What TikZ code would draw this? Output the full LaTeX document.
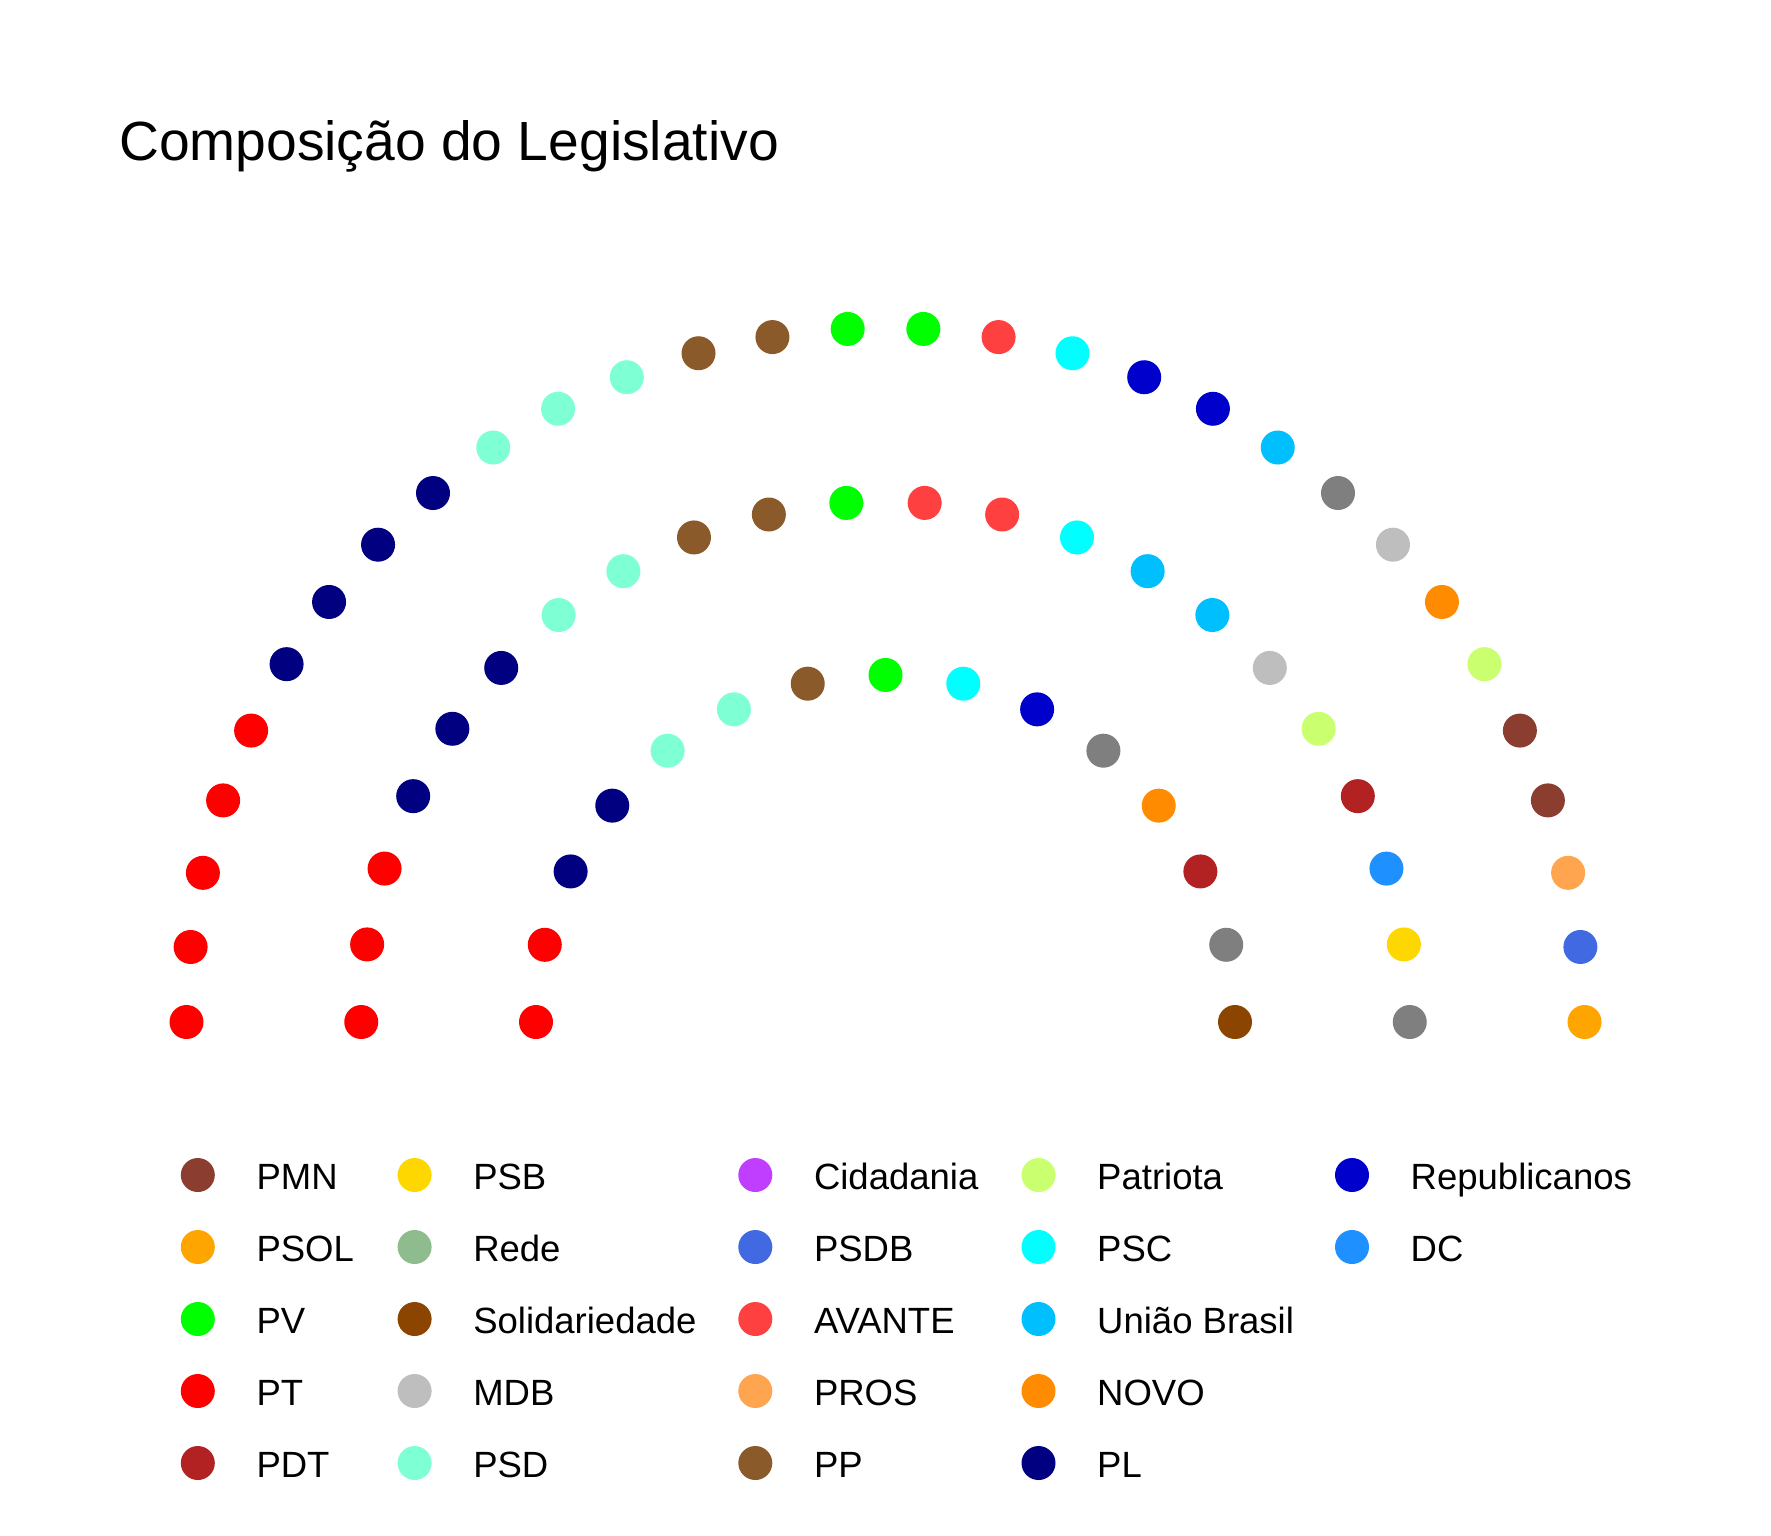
\documentclass[tikz,border=0pt]{standalone}
\usepackage{fontspec}
\setmainfont{Liberation Sans}
\definecolor{cPMN}{HTML}{8B3E2F}
\definecolor{cPSOL}{HTML}{FFA500}
\definecolor{cPV}{HTML}{00FF00}
\definecolor{cPT}{HTML}{FF0000}
\definecolor{cPDT}{HTML}{B22222}
\definecolor{cPSB}{HTML}{FFD700}
\definecolor{cRede}{HTML}{8FBC8F}
\definecolor{cSolid}{HTML}{8B4500}
\definecolor{cMDB}{HTML}{BEBEBE}
\definecolor{cPSD}{HTML}{7FFFD4}
\definecolor{cCid}{HTML}{BF3EFF}
\definecolor{cPSDB}{HTML}{4169E1}
\definecolor{cAVANTE}{HTML}{FF4040}
\definecolor{cPROS}{HTML}{FFA54F}
\definecolor{cPP}{HTML}{8B5A2B}
\definecolor{cPatriota}{HTML}{CAFF70}
\definecolor{cPSC}{HTML}{00FFFF}
\definecolor{cUniao}{HTML}{00BFFF}
\definecolor{cNOVO}{HTML}{FF8C00}
\definecolor{cPL}{HTML}{000080}
\definecolor{cRep}{HTML}{0000CD}
\definecolor{cDC}{HTML}{1E90FF}
\definecolor{cNA}{HTML}{7F7F7F}
\tikzset{
  seat/.style={circle, minimum size=34pt, inner sep=0pt, draw=none},
  legtext/.style={anchor=base west, inner sep=0pt, font=\fontsize{36.5}{44}\selectfont},
  titletext/.style={anchor=base west, inner sep=0pt, font=\fontsize{55.2}{66}\selectfont}
}
\begin{document}
\begin{tikzpicture}[x=1pt,y=-1pt]
\useasboundingbox[fill=white] (0,0) rectangle (1771,1535);
\node[titletext] (title) at (119,160.7) {Composição do Legislativo};
% seats
\def\cx{885.5}\def\cy{1022}
% inner row (15)
\foreach \c [count=\i from 0] in {PT,PT,PL,PL,PSD,PSD,PP,PV,PSC,Rep,NA,NOVO,PDT,NA,Solid}{
  \pgfmathsetmacro\t{180-\i*180/14}
  \node[seat, fill=c\c] (in\i) at ({\cx+349.5*cos(\t)},{\cy-0.993*349.5*sin(\t)}) {};
}
% middle row (22)
\foreach \c [count=\i from 0] in {PT,PT,PT,PL,PL,PL,PSD,PSD,PP,PP,PV,AVANTE,AVANTE,PSC,Uniao,Uniao,MDB,Patriota,PDT,DC,PSB,NA}{
  \pgfmathsetmacro\t{180-\i*180/21}
  \node[seat, fill=c\c] (mid\i) at ({\cx+524.25*cos(\t)},{\cy-0.993*524.25*sin(\t)}) {};
}
% outer row (30)
\foreach \c [count=\i from 0] in {PT,PT,PT,PT,PT,PL,PL,PL,PL,PSD,PSD,PSD,PP,PP,PV,PV,AVANTE,PSC,Rep,Rep,Uniao,NA,MDB,NOVO,Patriota,PMN,PMN,PROS,PSDB,PSOL}{
  \pgfmathsetmacro\t{180-\i*180/29}
  \node[seat, fill=c\c] (out\i) at ({\cx+699*cos(\t)},{\cy-0.993*699*sin(\t)}) {};
}
% legend
\foreach \x/\c/\lab/\r [count=\k] in {
  197.8/PMN/PMN/0, 197.8/PSOL/PSOL/1, 197.8/PV/PV/2, 197.8/PT/PT/3, 197.8/PDT/PDT/4,
  414.6/PSB/PSB/0, 414.6/Rede/Rede/1, 414.6/Solid/Solidariedade/2, 414.6/MDB/MDB/3, 414.6/PSD/PSD/4,
  755.3/Cid/Cidadania/0, 755.3/PSDB/PSDB/1, 755.3/AVANTE/AVANTE/2, 755.3/PROS/PROS/3, 755.3/PP/PP/4,
  1038.5/Patriota/Patriota/0, 1038.5/PSC/PSC/1, 1038.5/Uniao/União Brasil/2, 1038.5/NOVO/NOVO/3, 1038.5/PL/PL/4,
  1352/Rep/Republicanos/0, 1352/DC/DC/1}{
  \node[seat, fill=c\c] (key\k) at (\x,{1175+72*\r}) {};
  \node[legtext] (lab\k) at (\x+58.5,{1175+72*\r+14}) {\lab};
}
\end{tikzpicture}
\end{document}
